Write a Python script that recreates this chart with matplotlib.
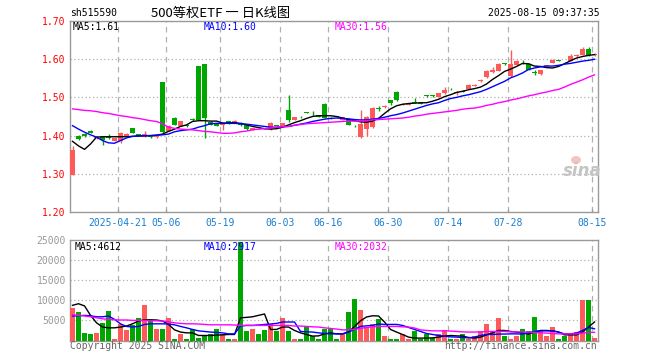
import matplotlib
matplotlib.use("Agg")
import matplotlib.pyplot as plt
import numpy as np

# ---------------- data ----------------
dates = ["2025-04-21", "05-06", "05-19", "06-03", "06-16", "06-30", "07-14", "07-28", "08-15"]
date_index = [8, 16, 25, 35, 43, 53, 63, 73, 87]

opens = [1.298, 1.398, 1.403, 1.413, 1.394, 1.396, 1.397, 1.387, 1.385, 1.398,
         1.419, 1.404, 1.399, 1.400, 1.397, 1.541, 1.413, 1.447, 1.426, 1.428,
         1.443, 1.582, 1.587, 1.435, 1.431, 1.427, 1.437, 1.434, 1.433, 1.428,
         1.415, 1.421, 1.420, 1.416, 1.428, 1.425, 1.468, 1.442, 1.450, 1.460,
         1.460, 1.454, 1.484, 1.447, 1.450, 1.441, 1.443, 1.426, 1.396, 1.416,
         1.422, 1.472, 1.475, 1.492, 1.515, 1.480, 1.480, 1.488, 1.486, 1.505,
         1.505, 1.502, 1.511, 1.523, 1.511, 1.517, 1.522, 1.530, 1.543, 1.553,
         1.566, 1.570, 1.589, 1.555, 1.586, 1.591, 1.588, 1.567, 1.560, 1.582,
         1.590, 1.597, 1.591, 1.596, 1.608, 1.612, 1.627, 1.610]
closes = [1.363, 1.390, 1.398, 1.407, 1.397, 1.389, 1.394, 1.393, 1.408, 1.403,
          1.407, 1.400, 1.403, 1.397, 1.400, 1.409, 1.425, 1.429, 1.438, 1.424,
          1.441, 1.442, 1.445, 1.429, 1.425, 1.430, 1.432, 1.438, 1.428, 1.416,
          1.420, 1.419, 1.418, 1.434, 1.424, 1.432, 1.442, 1.448, 1.448, 1.459,
          1.458, 1.449, 1.446, 1.445, 1.449, 1.448, 1.428, 1.424, 1.431, 1.450,
          1.472, 1.470, 1.478, 1.486, 1.492, 1.484, 1.483, 1.486, 1.484, 1.503,
          1.503, 1.511, 1.520, 1.521, 1.515, 1.515, 1.533, 1.533, 1.546, 1.570,
          1.572, 1.588, 1.587, 1.588, 1.596, 1.589, 1.572, 1.565, 1.572, 1.583,
          1.599, 1.596, 1.589, 1.608, 1.612, 1.627, 1.610, 1.614]
highs = [1.374, 1.402, 1.406, 1.414, 1.399, 1.400, 1.403, 1.395, 1.410, 1.406,
         1.420, 1.405, 1.413, 1.401, 1.402, 1.541, 1.427, 1.448, 1.439, 1.430,
         1.445, 1.582, 1.588, 1.437, 1.432, 1.431, 1.438, 1.440, 1.435, 1.430,
         1.421, 1.421, 1.421, 1.435, 1.429, 1.433, 1.505, 1.449, 1.452, 1.461,
         1.465, 1.455, 1.485, 1.448, 1.451, 1.449, 1.444, 1.428, 1.468, 1.452,
         1.474, 1.477, 1.479, 1.493, 1.516, 1.485, 1.484, 1.498, 1.486, 1.506,
         1.506, 1.512, 1.528, 1.524, 1.516, 1.520, 1.534, 1.534, 1.547, 1.571,
         1.579, 1.589, 1.589, 1.623, 1.597, 1.599, 1.589, 1.573, 1.573, 1.584,
         1.600, 1.598, 1.592, 1.614, 1.613, 1.633, 1.631, 1.615]
lows = [1.296, 1.389, 1.396, 1.406, 1.392, 1.375, 1.390, 1.386, 1.380, 1.396,
        1.406, 1.399, 1.396, 1.395, 1.395, 1.408, 1.412, 1.428, 1.425, 1.422,
        1.438, 1.441, 1.393, 1.428, 1.424, 1.415, 1.431, 1.433, 1.426, 1.415,
        1.414, 1.418, 1.417, 1.415, 1.424, 1.424, 1.435, 1.441, 1.446, 1.458,
        1.452, 1.448, 1.445, 1.443, 1.448, 1.440, 1.427, 1.423, 1.394, 1.400,
        1.420, 1.464, 1.472, 1.479, 1.490, 1.479, 1.479, 1.485, 1.483, 1.502,
        1.502, 1.501, 1.510, 1.520, 1.507, 1.513, 1.521, 1.529, 1.541, 1.552,
        1.563, 1.569, 1.586, 1.554, 1.585, 1.587, 1.571, 1.559, 1.559, 1.581,
        1.589, 1.595, 1.589, 1.596, 1.607, 1.611, 1.609, 1.609]

ma5 = [1.385, 1.373, 1.364, 1.378, 1.396, 1.397, 1.397, 1.397, 1.397, 1.397,
       1.398, 1.399, 1.399, 1.400, 1.401, 1.404, 1.411, 1.417, 1.424, 1.428,
       1.437, 1.439, 1.439, 1.438, 1.438, 1.433, 1.433, 1.434, 1.432, 1.428,
       1.424, 1.421, 1.418, 1.417, 1.418, 1.422, 1.428, 1.434, 1.439, 1.445,
       1.450, 1.452, 1.452, 1.452, 1.450, 1.446, 1.442, 1.439, 1.436, 1.435,
       1.438, 1.445, 1.458, 1.470, 1.478, 1.482, 1.484, 1.485, 1.486, 1.486,
       1.490, 1.495, 1.502, 1.507, 1.513, 1.516, 1.520, 1.523, 1.527, 1.535,
       1.547, 1.557, 1.568, 1.574, 1.581, 1.589, 1.588, 1.582, 1.581, 1.578,
       1.577, 1.581, 1.588, 1.596, 1.603, 1.607, 1.610, 1.612]
ma10 = [1.426, 1.417, 1.409, 1.402, 1.396, 1.387, 1.381, 1.380, 1.387, 1.394,
        1.398, 1.399, 1.400, 1.400, 1.401, 1.402, 1.404, 1.410, 1.413, 1.415,
        1.417, 1.422, 1.426, 1.431, 1.432, 1.432, 1.432, 1.432, 1.431, 1.430,
        1.428, 1.426, 1.424, 1.422, 1.422, 1.423, 1.424, 1.427, 1.430, 1.433,
        1.437, 1.440, 1.443, 1.445, 1.446, 1.445, 1.444, 1.442, 1.441, 1.441,
        1.443, 1.445, 1.448, 1.452, 1.455, 1.459, 1.464, 1.469, 1.474, 1.479,
        1.483, 1.486, 1.492, 1.497, 1.500, 1.504, 1.507, 1.511, 1.515, 1.521,
        1.528, 1.535, 1.542, 1.551, 1.557, 1.564, 1.573, 1.577, 1.580, 1.582,
        1.582, 1.584, 1.587, 1.589, 1.592, 1.595, 1.597, 1.600]
ma30 = [1.470, 1.468, 1.466, 1.465, 1.463, 1.460, 1.458, 1.455, 1.452, 1.450,
        1.447, 1.445, 1.442, 1.439, 1.437, 1.431, 1.422, 1.419, 1.417, 1.416,
        1.415, 1.413, 1.411, 1.410, 1.408, 1.406, 1.406, 1.407, 1.410, 1.412,
        1.415, 1.417, 1.418, 1.420, 1.422, 1.423, 1.424, 1.427, 1.429, 1.431,
        1.432, 1.433, 1.434, 1.435, 1.436, 1.437, 1.438, 1.438, 1.438, 1.439,
        1.441, 1.442, 1.443, 1.444, 1.445, 1.446, 1.448, 1.451, 1.453, 1.456,
        1.458, 1.460, 1.462, 1.464, 1.466, 1.469, 1.471, 1.472, 1.475, 1.479,
        1.482, 1.486, 1.489, 1.493, 1.496, 1.500, 1.504, 1.507, 1.511, 1.514,
        1.518, 1.521, 1.527, 1.534, 1.540, 1.546, 1.553, 1.559]

volumes = [8100, 7000, 1750, 1650, 1750, 4350, 7250, 400, 4000, 2500,
           3850, 5500, 8750, 5150, 2900, 2900, 5500, 400, 1500, 400,
           2750, 650, 1150, 1650, 2750, 1650, 400, 400, 24600, 2250,
           2900, 1650, 2500, 4000, 2250, 5500, 2350, 400, 400, 3500,
           1000, 400, 2900, 2900, 400, 1650, 7000, 10250, 7500, 3250,
           4000, 5250, 1000, 400, 400, 1650, 400, 2250, 400, 1650,
           650, 1500, 2500, 400, 400, 1650, 400, 1000, 2250, 4000,
           2250, 5500, 1000, 400, 1000, 2750, 2250, 5900, 2250, 1000,
           3250, 400, 1000, 1500, 2000, 10000, 10000, 650]
vma5 = [8750, 9150, 8600, 6250, 4400, 3350, 3150, 3150, 3350, 3600,
        4150, 4850, 5150, 5150, 5100, 4850, 4000, 2650, 2100, 1900,
        1900, 1250, 1250, 1250, 1350, 1400, 1500, 1500, 5650, 5750,
        5900, 6250, 6600, 2750, 2750, 3350, 3350, 2500, 1900, 1500,
        1100, 1150, 1650, 1900, 1650, 1650, 2100, 3500, 4900, 5850,
        6150, 6100, 4600, 2750, 2100, 1500, 850, 600, 600, 600,
        650, 850, 1100, 1250, 1150, 1100, 750, 600, 850, 1400,
        1900, 2500, 2500, 2250, 2100, 1900, 1600, 2100, 2500, 2500,
        2400, 2100, 1400, 1400, 1400, 2100, 3350, 4612]
vma10 = [6100, 6150, 6250, 6150, 5900, 5900, 6100, 5250, 4150, 3500,
         3350, 3500, 4000, 4150, 4150, 4150, 4100, 3900, 3500, 3150,
         2750, 2400, 2250, 2100, 2000, 1900, 1650, 1650, 3600, 3750,
         3750, 3850, 4000, 4100, 4250, 4600, 4600, 4600, 2250, 2150,
         2100, 1900, 1750, 1650, 1650, 1650, 2100, 2750, 3500, 3650,
         3750, 4100, 4000, 4000, 4000, 3750, 3250, 2750, 2250, 1750,
         1500, 1250, 1100, 900, 850, 750, 650, 850, 1250, 1500,
         1500, 1600, 1600, 1650, 1650, 1600, 1900, 2250, 2400, 2400,
         2400, 2100, 1650, 1650, 1850, 2500, 3250, 2917]
vma30 = [6400, 6250, 6100, 5900, 5650, 5400, 5250, 5150, 5100, 5100,
         5000, 5000, 5000, 4900, 4900, 4850, 4650, 4400, 4250, 4150,
         4150, 4100, 4000, 3900, 3900, 3900, 3900, 3850, 3750, 3750,
         3750, 3750, 3750, 3750, 3750, 3750, 3750, 3600, 3600, 3500,
         3400, 3350, 3150, 3000, 2850, 2650, 2650, 2750, 3000, 3250,
         3400, 3500, 3500, 3500, 3500, 3400, 3350, 3100, 2650, 2500,
         2400, 2400, 2400, 2350, 2250, 2150, 2100, 2100, 2150, 2250,
         2250, 2250, 2250, 2150, 2150, 2100, 2100, 2000, 1900, 1850,
         1750, 1650, 1650, 1650, 1650, 1850, 2000, 2032]

price_ticks = [1.20, 1.30, 1.40, 1.50, 1.60, 1.70]
vol_ticks = [0, 5000, 10000, 15000, 20000, 25000]

# ---------------- style ----------------
RED = "#ff5a5a"
GREEN = "#00a600"
FRAME = "#999999"
GRID = "#b0b0b0"
MONO = ["DejaVu Sans Mono"]
plt.rcParams["font.family"] = MONO

n = len(opens)
x = np.arange(n)
o = np.array(opens); c = np.array(closes)
up = c >= o
cols = [RED if u else GREEN for u in up]

W, H = 660, 360
fig = plt.figure(figsize=(W / 100, H / 100), dpi=100)
fig.patch.set_facecolor("white")

def fx(px): return px / W
def fy(py): return 1 - py / H

ax = fig.add_axes([fx(70), fy(212), fx(598) - fx(70), fy(21) - fy(212)])
axv = fig.add_axes([fx(70), fy(340.5), fx(598) - fx(70), fy(240) - fy(340.5)])

for a in (ax, axv):
    a.set_xlim(0, n)
    for s in a.spines.values():
        s.set_color(FRAME)
        s.set_linewidth(1.0)
    for xi in date_index:
        a.axvline(xi, color=GRID, lw=0.9, ls=(0, (4.5, 3.5)), zorder=0)
    a.set_xticks(date_index)
    a.tick_params(axis="x", direction="in", length=2.5, color=FRAME, width=0.9)
    a.tick_params(axis="y", length=0, pad=3)

# price panel
ax.set_ylim(1.20, 1.70)
ax.set_yticks(price_ticks)
ax.set_yticklabels([f"{v:.2f}" for v in price_ticks], color="red", fontsize=7)
for v in price_ticks[1:-1]:
    ax.axhline(v, color=GRID, lw=0.9, ls=(0, (1, 2)), zorder=0)
ax.set_xticklabels(dates, color="#1a7fd0", fontsize=7)
ax.tick_params(axis="x", pad=4)

body_h = np.maximum(np.abs(c - o), 0.0018)
body_b = np.minimum(o, c)
ax.vlines(x + 0.42, lows, highs, colors=cols, lw=1.0, zorder=3)
ax.bar(x, body_h, bottom=body_b, width=0.82, align="edge", color=cols, lw=0, zorder=4)

xc = x + 0.42
ax.plot(xc, ma5, color="black", lw=1.0, zorder=5)
ax.plot(xc, ma10, color="#0000ff", lw=1.0, zorder=5)
ax.plot(xc, ma30, color="#ff00ff", lw=1.0, zorder=5)

ax.text(fx(73), fy(27), f"MA5:{ma5[-1]:.2f}", transform=fig.transFigure, fontsize=7, color="black", va="center")
ax.text(fx(204), fy(27), f"MA10:{ma10[-1]:.2f}", transform=fig.transFigure, fontsize=7, color="#0000ff", va="center")
ax.text(fx(335), fy(27), f"MA30:{ma30[-1]:.2f}", transform=fig.transFigure, fontsize=7, color="#ff00ff", va="center")

# sina watermark
fig.text(fx(582), fy(171), "sina", fontsize=12, fontweight="bold", style="italic",
         color="#c4c4c4", ha="center", va="center", family=["DejaVu Sans"])
fig.patches.append(matplotlib.patches.Ellipse((fx(576), fy(160)), fx(10), 8 / H,
                   transform=fig.transFigure, facecolor="#f6c2c2", edgecolor="none"))

# volume panel
axv.set_ylim(0, 25000)
axv.set_yticks(vol_ticks[1:])
axv.set_yticklabels([str(v) for v in vol_ticks[1:]], color="#999999", fontsize=7)
for v in vol_ticks[1:-1]:
    axv.axhline(v, color=GRID, lw=0.9, ls=(0, (1, 2)), zorder=0)
axv.set_xticklabels([])
axv.bar(x, volumes, width=0.82, align="edge", color=cols, lw=0, zorder=3)
axv.plot(xc, vma5, color="black", lw=1.0, zorder=5)
axv.plot(xc, vma10, color="#0000ff", lw=1.0, zorder=5)
axv.plot(xc, vma30, color="#ff00ff", lw=1.0, zorder=5)

fig.text(fx(75), fy(247), f"MA5:{vma5[-1]}", fontsize=7, color="black", va="center")
fig.text(fx(204), fy(247), f"MA10:{vma10[-1]}", fontsize=7, color="#0000ff", va="center")
fig.text(fx(335), fy(247), f"MA30:{vma30[-1]}", fontsize=7, color="#ff00ff", va="center")

# header & footer
fig.text(fx(70), fy(13), "sh515590", fontsize=7, color="black", va="center")
fig.text(fx(151), fy(13), "500等权ETF 一 日K线图", fontsize=9.5, color="black", va="center",
         family=["Noto Sans CJK SC", "DejaVu Sans"])
fig.text(fx(600), fy(13), "2025-08-15 09:37:35", fontsize=7, color="black", va="center", ha="right")
fig.text(fx(70), fy(346), "Copyright 2025 SINA.COM", fontsize=7, color="#666666", va="center")
fig.text(fx(597), fy(346), "http://finance.sina.com.cn", fontsize=7, color="#666666", va="center", ha="right")

fig.savefig("out.png", dpi=100)
